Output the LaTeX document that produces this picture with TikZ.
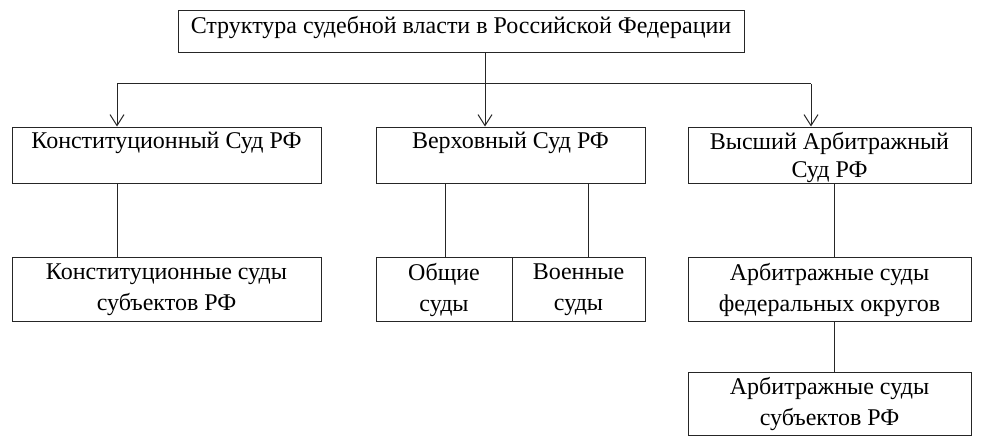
\documentclass[tikz,border=0pt]{standalone}
\usepackage{fontspec}
\setmainfont{Liberation Serif}
\usetikzlibrary{arrows.meta}
\tikzset{
  box/.style={draw=black!85, line width=1pt, rectangle, inner sep=0pt},
  txt/.style={align=center, inner sep=0pt, font=\fontsize{24}{31}\selectfont},
  txttwo/.style={align=center, inner sep=0pt, font=\fontsize{24}{28}\selectfont},
  conn/.style={draw=black!85, line width=1pt},
  arr/.style={conn, -{Straight Barb[length=11pt,width=14pt,line width=1pt]}}
}
\begin{document}
\begin{tikzpicture}[x=1pt,y=-1pt]
\useasboundingbox (0,0) rectangle (988,444);
% top
\node[box, minimum width=566pt, minimum height=42pt] (top) at (461,32) {};
\node[txt] (toptxt) at (461,28) {Структура судебной власти в Российской Федерации};
% row 2
\node[box, minimum width=309pt, minimum height=56pt] (r2l) at (166.5,155) {};
\node[txt] (r2ltxt) at (166.5,143) {Конституционный Суд РФ};
\node[box, minimum width=269pt, minimum height=56pt] (r2m) at (510.5,155) {};
\node[txt] (r2mtxt) at (510.5,143) {Верховный Суд РФ};
\node[box, minimum width=283pt, minimum height=56pt] (r2r) at (829.5,155) {};
\node[txttwo] (r2rtxt) at (829.5,157) {Высший Арбитражный\\Суд РФ};
% row 3
\node[box, minimum width=309pt, minimum height=64pt] (r3l) at (166.5,289) {};
\node[txt] (r3ltxt) at (166.5,290) {Конституционные суды\\субъектов РФ};
\node[box, minimum width=136pt, minimum height=64pt] (r3a) at (444,289) {};
\node[txt] (r3atxt) at (444,290) {Общие\\суды};
\node[box, minimum width=133pt, minimum height=64pt] (r3b) at (578.5,289) {};
\node[txt] (r3btxt) at (578.5,290) {Военные\\суды};
\node[box, minimum width=283pt, minimum height=64pt] (r3r) at (829.5,289) {};
\node[txt] (r3rtxt) at (829.5,290) {Арбитражные суды\\федеральных округов};
% row 4
\node[box, minimum width=283pt, minimum height=63pt] (r4) at (829.5,403.5) {};
\node[txt] (r4txt) at (829.5,404) {Арбитражные суды\\субъектов РФ};
% connectors
\coordinate (jl) at (117,84);
\coordinate (jm) at (485,84);
\coordinate (jr) at (811,84);
\draw[conn] (jl) -- (jr);
\draw[arr] (top.south -| jm) -- (r2m.north -| jm);
\draw[arr] (jl) -- (r2l.north -| jl);
\draw[arr] (jr) -- (r2r.north -| jr);
\coordinate (cl) at (117,200);
\coordinate (ca) at (445,200);
\coordinate (cb) at (588,200);
\coordinate (cr) at (834,200);
\draw[conn] (r2l.south -| cl) -- (r3l.north -| cl);
\draw[conn] (r2m.south -| ca) -- (r3a.north -| ca);
\draw[conn] (r2m.south -| cb) -- (r3b.north -| cb);
\draw[conn] (r2r.south -| cr) -- (r3r.north -| cr);
\draw[conn] (r3r.south -| cr) -- (r4.north -| cr);
\end{tikzpicture}
\end{document}
